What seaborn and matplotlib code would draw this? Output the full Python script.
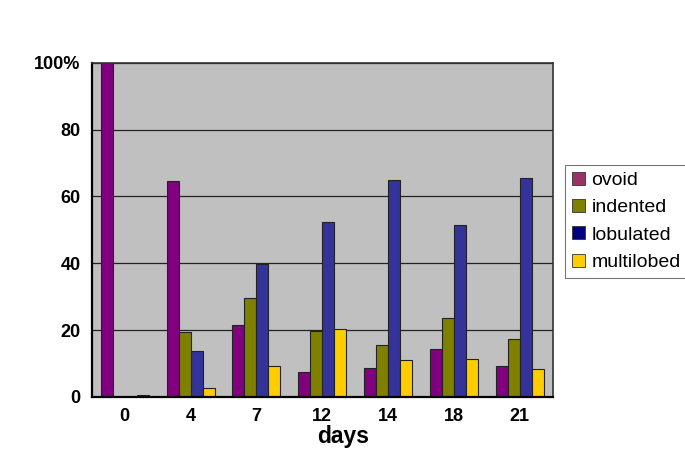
import pandas as pd
import numpy as np
import matplotlib.pyplot as plt
import seaborn as sns
from matplotlib.patches import Patch

days = ['0', '4', '7', '12', '14', '18', '21']
ovoid = [100, 64.7, 21.6, 7.4, 8.7, 14.2, 9.3]
indented = [0, 19.4, 29.5, 19.8, 15.6, 23.5, 17.2]
lobulated = [0, 13.7, 39.8, 52.3, 64.9, 51.6, 65.5]
multilobed = [0.7, 2.7, 9.2, 20.3, 11.1, 11.3, 8.5]

series = ['ovoid', 'indented', 'lobulated', 'multilobed']
bar_colors = ['#800080', '#808000', '#333399', '#FFCC00']
legend_colors = ['#993366', '#808000', '#000080', '#FFCC00']


def arma_tabla():
    filas = []
    for nombre, vals in zip(series, [ovoid, indented, lobulated, multilobed]):
        for d, v in zip(days, vals):
            filas.append({'day': d, 'shape': nombre, 'value': v})
    return pd.DataFrame(filas)


df = arma_tabla()

sns.set_style('white')
plt.rcParams['font.family'] = ['Liberation Sans', 'DejaVu Sans']
plt.rcParams['text.color'] = 'black'
plt.rcParams['axes.labelcolor'] = 'black'
plt.rcParams['xtick.color'] = 'black'
plt.rcParams['ytick.color'] = 'black'

fig = plt.figure(figsize=(6.85, 4.49), dpi=100)
ax = fig.add_axes([0.134, 0.116, 0.673, 0.744])
ax.set_facecolor('#C0C0C0')

sns.barplot(data=df, x='day', y='value', hue='shape', order=days,
            hue_order=series, palette=bar_colors, saturation=1,
            width=0.73, edgecolor='#222222', linewidth=0.8, ax=ax,
            legend=False, zorder=2)

# las barras en cero no se ven en el original
for p in ax.patches:
    if p.get_height() == 0:
        p.set_linewidth(0)

ax.set_ylim(0, 100)
ax.set_xlim(-0.5, 6.5)
ax.set_yticks([0, 20, 40, 60, 80, 100])
ax.set_yticklabels(['0', '20', '40', '60', '80', '100%'])
ax.yaxis.grid(True, color='#222222', linewidth=0.9, zorder=0)
ax.set_axisbelow(True)
ax.tick_params(axis='both', length=0, pad=8, labelsize=13, labelcolor='black')
for lbl in ax.get_xticklabels() + ax.get_yticklabels():
    lbl.set_fontweight('bold')

for lado in ['left', 'bottom']:
    ax.spines[lado].set_color('black')
    ax.spines[lado].set_linewidth(1.6)
    ax.spines[lado].set_zorder(4)
for lado in ['top', 'right']:
    ax.spines[lado].set_color('#333333')
    ax.spines[lado].set_linewidth(1.2)
    ax.spines[lado].set_zorder(4)

ax.set_ylabel('')
ax.set_xlabel('days', fontsize=16.5, fontweight='bold', color='black')
ax.xaxis.set_label_coords(0.545, -0.083)

handles = [Patch(facecolor=c, edgecolor='#333333', linewidth=0.6) for c in legend_colors]
leg = fig.legend(handles, series, loc='upper left', bbox_to_anchor=(0.825, 0.633),
                 frameon=True, fancybox=False, edgecolor='#555555', fontsize=14,
                 handlelength=0.65, handleheight=0.65, handletextpad=0.35,
                 labelspacing=0.52, borderpad=0.35, borderaxespad=0,
                 labelcolor='black')
leg.get_frame().set_linewidth(0.8)

fig.savefig('out.png', dpi=100)
